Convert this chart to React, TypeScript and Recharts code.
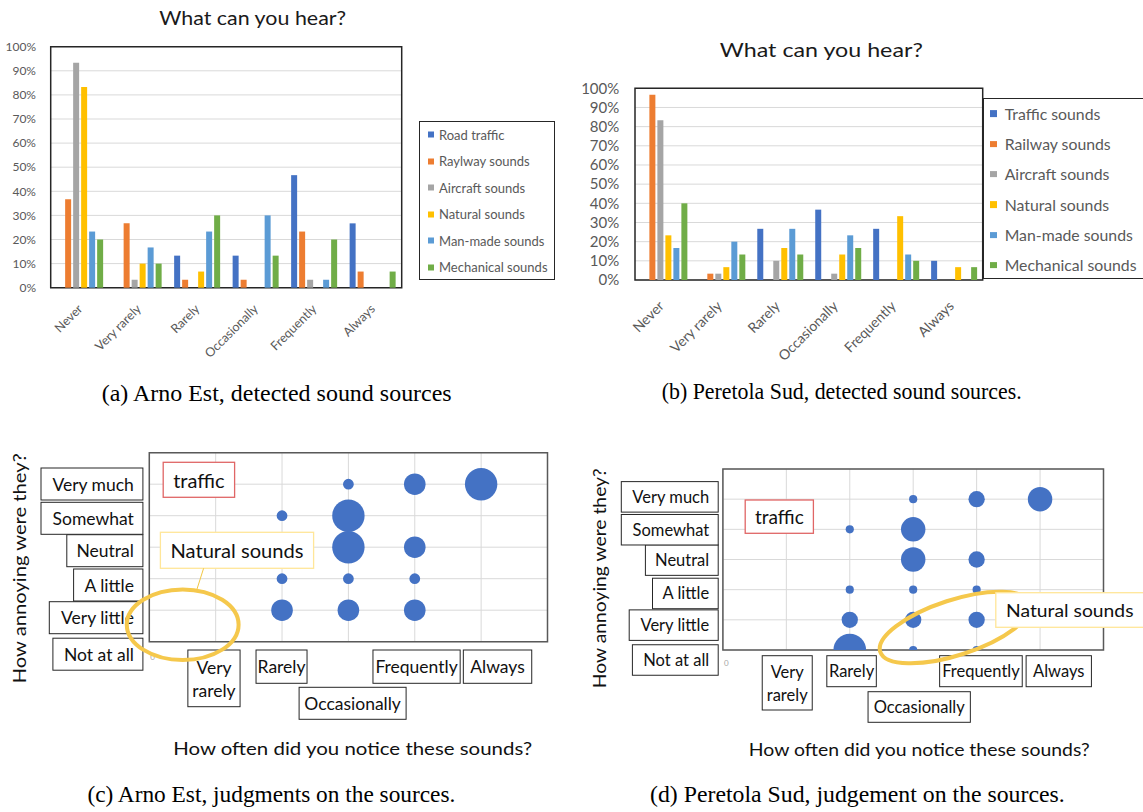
import {
  BarChart,
  Bar,
  XAxis,
  YAxis,
  CartesianGrid,
  Legend,
  ReferenceArea,
  ScatterChart,
  Scatter,
  ZAxis,
} from "recharts"

const SANS = "Lato, 'Open Sans', sans-serif"
const SERIF = "'Liberation Serif', 'Times New Roman', serif"

// ---- data ----
const categories = ["Never", "Very rarely", "Rarely", "Occasionally", "Frequently", "Always"]
const percentTicks = [0, 10, 20, 30, 40, 50, 60, 70, 80, 90, 100]

// (a) Arno Est, % of answers
const arnoNames = ["Road traffic", "Raylway sounds", "Aircraft sounds", "Natural sounds", "Man-made sounds", "Mechanical sounds"]
const arnoRoad = [0, 0, 13.3, 13.3, 46.7, 26.7]
const arnoRail = [36.7, 26.7, 3.3, 3.3, 23.3, 6.7]
const arnoAir = [93.3, 3.3, 0, 0, 3.3, 0]
const arnoNatural = [83.3, 10, 6.7, 0, 0, 0]
const arnoManMade = [23.3, 16.7, 23.3, 30, 3.3, 0]
const arnoMech = [20, 10, 30, 13.3, 20, 6.7]

// (b) Peretola Sud, % of answers
const peretolaNames = ["Traffic sounds", "Railway sounds", "Aircraft sounds", "Natural sounds", "Man-made sounds", "Mechanical sounds"]
const peretolaTraffic = [0, 0, 26.7, 36.7, 26.7, 10]
const peretolaRail = [96.7, 3.3, 0, 0, 0, 0]
const peretolaAir = [83.3, 3.3, 10, 3.3, 0, 0]
const peretolaNatural = [23.3, 6.7, 16.7, 13.3, 33.3, 6.7]
const peretolaManMade = [16.7, 20, 26.7, 23.3, 13.3, 0]
const peretolaMech = [40, 13.3, 13.3, 16.7, 10, 6.7]

const seriesColors = ["#4472C4", "#ED7D31", "#A5A5A5", "#FFC000", "#5B9BD5", "#70AD47"]

// (c)/(d) bubbles: how often (0-5), how annoying (0-5), bubble size
const annoyanceLabels = ["Not at all", "Very little", "A little", "Neutral", "Somewhat", "Very much"]
const levelTicks = [0, 1, 2, 3, 4, 5]

const arnoFreq = [3, 4, 5, 2, 3, 3, 4, 2, 3, 4, 2, 3, 4]
const arnoAnnoy = [5, 5, 5, 4, 4, 3, 3, 2, 2, 2, 1, 1, 1]
const arnoSize = [1, 4, 9, 1, 9, 9, 4, 1, 1, 1, 4, 4, 4]

const peretolaFreq = [3, 4, 5, 2, 3, 3, 4, 2, 3, 4, 2, 3, 4, 2, 3, 4]
const peretolaAnnoy = [5, 5, 5, 4, 4, 3, 3, 2, 2, 2, 1, 1, 1, 0, 0, 0]
const peretolaSize = [1, 4, 9, 1, 9, 9, 4, 1, 1, 1, 4, 4, 4, 16, 1, 1]

// ---- layout ----
const layoutA = {
  left: 0, top: 0, width: 560, height: 380,
  margin: { top: 46.7, right: 158.3, bottom: 32.3, left: 0 },
  yAxisWidth: 50.7, xAxisHeight: 60,
  yFont: 12, yTickMargin: 14.7,
  xFont: 12.5, xDx: 3.4, xDy: 22,
  legend: { left: 419, top: 120.5, width: 136, height: 159.5, first: 13, step: 26.5, font: 13, marker: 6, markerX: 7.5, textX: 19 },
}

const layoutB = {
  left: 570, top: 0, width: 573, height: 380,
  margin: { top: 88.3, right: 160.3, bottom: 40, left: 0 },
  yAxisWidth: 65, xAxisHeight: 60,
  yFont: 15, yTickMargin: 15.7,
  xFont: 14, xDx: 1, xDy: 27,
  legend: { left: 412.7, top: 98.3, width: 165, height: 181, first: 14.4, step: 30.3, font: 15.8, marker: 6.5, markerX: 6.5, textX: 21 },
}

const layoutC = {
  left: 0, top: 430, width: 560, height: 382,
  margin: { top: 22.7, right: 12.5, bottom: 70.3, left: 0 },
  yAxisWidth: 149.3, xAxisHeight: 100,
  zMax: 9, areaMax: 824,
  font: 17.5,
  yGap: 6.4, yPad: 9, yBoxH: 32,
  yBoxes: [
    { dy: 12.5, w: 90 }, { dy: 7.5, w: 93.6 }, { dy: 6.3, w: 69.3 },
    { dy: 3.5, w: 76.1 }, { dy: 2.6, w: 101.9 }, { dy: -0.2, w: 101.9 },
  ],
  xBoxes: [
    null,
    { dx: -1.7, dy: 8.3, w: 52.2, h: 56.7, wrap: true },
    { dx: -0.5, dy: 8.3, w: 51, h: 33.3 },
    { dx: 4.2, dy: 45.6, w: 107, h: 32 },
    { dx: 1.8, dy: 8.3, w: 87.2, h: 33.3 },
    { dx: 16.4, dy: 8.3, w: 68.4, h: 33.3 },
  ],
  zeroDy: 15,
}

const layoutD = {
  left: 580, top: 430, width: 563, height: 382,
  margin: { top: 39, right: 39.5, bottom: 62, left: 0 },
  yAxisWidth: 142.9, xAxisHeight: 100,
  zMax: 16, areaMax: 835,
  font: 16.5,
  yGap: 4.7, yPad: 9, yBoxH: 30.5,
  yBoxes: [
    { dy: 10, w: 85.8 }, { dy: 5.3, w: 89 }, { dy: 3.8, w: 65.7 },
    { dy: 0.6, w: 72.8 }, { dy: 0.4, w: 96.9 }, { dy: -2.3, w: 96.9 },
  ],
  xBoxes: [
    null,
    { dx: 0.9, dy: 5.7, w: 50, h: 54.3, wrap: true },
    { dx: 1.8, dy: 5.7, w: 49.5, h: 31 },
    { dx: 6, dy: 41.7, w: 102.3, h: 30.6 },
    { dx: 4.3, dy: 5.7, w: 82.6, h: 31 },
    { dx: 18.7, dy: 5.7, w: 65.3, h: 31 },
  ],
  zeroDy: 13.3,
}

// ---- bar charts ----
function makeLegend(L: any, names: string[]) {
  return (props: any) => {
    // keep the series order instead of the alphabetical one
    const payload = [...(props.payload || [])].sort(
      (a: any, b: any) => names.indexOf(a.value) - names.indexOf(b.value)
    )
    return (
      <div style={{ position: "relative", width: "100%", height: "100%" }}>
        {payload.map((p: any, i: number) => (
          <div
            key={i}
            style={{
              position: "absolute",
              left: L.markerX,
              top: L.first + i * L.step,
              transform: "translateY(-50%)",
              display: "flex",
              alignItems: "center",
              whiteSpace: "nowrap",
            }}
          >
            <span
              style={{
                display: "inline-block",
                width: L.marker,
                height: L.marker,
                background: p.color,
                marginRight: L.textX - L.markerX - L.marker,
              }}
            />
            <span style={{ fontSize: L.font, color: "#595959", fontFamily: SANS, lineHeight: 1 }}>{p.value}</span>
          </div>
        ))}
      </div>
    )
  }
}

function SourcesChart({ series, names, L }: any) {
  const rows = categories.map((c, i) => {
    const r: any = { cat: c }
    series.forEach((s: number[], k: number) => (r["s" + k] = s[i]))
    return r
  })
  const lg = L.legend
  return (
    <BarChart
      width={L.width}
      height={L.height}
      data={rows}
      margin={L.margin}
      barCategoryGap="11%"
      barGap={2}
    >
      <CartesianGrid vertical={false} stroke="#D9D9D9" />
      <XAxis
        dataKey="cat"
        height={L.xAxisHeight}
        axisLine={false}
        tickLine={false}
        tickSize={0}
        tickMargin={0}
        interval={0}
        tick={(p: any) => (
          <text
            x={p.x + L.xDx}
            y={p.y + L.xDy}
            transform={`rotate(-45 ${p.x + L.xDx} ${p.y + L.xDy})`}
            textAnchor="end"
            fontSize={L.xFont}
            fill="#595959"
            fontFamily={SANS}
          >
            {p.payload.value}
          </text>
        )}
      />
      <YAxis
        domain={[0, 100]}
        ticks={percentTicks}
        interval={0}
        tickFormatter={(v: number) => `${v}%`}
        width={L.yAxisWidth}
        axisLine={false}
        tickLine={false}
        tickSize={0}
        tickMargin={L.yTickMargin}
        tick={{ fill: "#595959", fontSize: L.yFont, fontFamily: SANS }}
      />
      {series.map((_: number[], k: number) => (
        <Bar key={k} dataKey={"s" + k} name={names[k]} fill={seriesColors[k]} isAnimationActive={false} />
      ))}
      <ReferenceArea y1={0} y2={100} fill="none" stroke="#262626" strokeWidth={1.5} />
      <Legend
        layout="vertical"
        align="center"
        verticalAlign="middle"
        content={makeLegend(lg, names)}
        wrapperStyle={{
          left: lg.left,
          top: lg.top,
          width: lg.width,
          height: lg.height,
          border: "1.5px solid #262626",
          boxSizing: "border-box",
          background: "#fff",
        }}
      />
    </BarChart>
  )
}

// ---- bubble charts ----
function JudgmentChart({ freq, annoy, size, L }: any) {
  const points = freq.map((f: number, i: number) => ({ f, a: annoy[i], s: size[i] }))

  const yTick = (p: any) => {
    const v = p.payload.value
    const b = L.yBoxes[v]
    const right = p.x - L.yGap
    const cy = p.y + b.dy
    return (
      <g>
        <rect x={right - b.w} y={cy - L.yBoxH / 2} width={b.w} height={L.yBoxH} fill="#fff" stroke="#262626" strokeWidth={1} />
        <text x={right - L.yPad} y={cy} textAnchor="end" dominantBaseline="central" fontSize={L.font} fill="#111" fontFamily={SANS}>
          {annoyanceLabels[v]}
        </text>
      </g>
    )
  }

  const xTick = (p: any) => {
    const v = p.payload.value
    if (v === 0) {
      return (
        <text x={p.x + 1} y={p.y + L.zeroDy} dominantBaseline="central" fontSize={8} fill="#A6A6A6" fontFamily={SANS}>
          0
        </text>
      )
    }
    const b = L.xBoxes[v]
    const cx = p.x + b.dx
    const top = p.y + b.dy
    const label = categories[v]
    const lines = b.wrap ? label.split(" ") : [label]
    return (
      <g>
        <rect x={cx - b.w / 2} y={top} width={b.w} height={b.h} fill="#fff" stroke="#262626" strokeWidth={1} />
        {lines.map((t: string, i: number) => (
          <text
            key={i}
            x={cx}
            y={lines.length > 1 ? top + b.h * (i === 0 ? 0.3 : 0.72) : top + b.h / 2}
            textAnchor="middle"
            dominantBaseline="central"
            fontSize={L.font}
            fill="#111"
            fontFamily={SANS}
          >
            {t}
          </text>
        ))}
      </g>
    )
  }

  return (
    <ScatterChart width={L.width} height={L.height} margin={L.margin}>
      <CartesianGrid stroke="#D9D9D9" />
      <XAxis
        type="number"
        dataKey="f"
        domain={[0, 6]}
        ticks={levelTicks}
        allowDataOverflow
        height={L.xAxisHeight}
        axisLine={false}
        tickLine={false}
        tickSize={0}
        tickMargin={0}
        interval={0}
        tick={xTick}
      />
      <YAxis
        type="number"
        dataKey="a"
        domain={[0, 6]}
        ticks={levelTicks}
        allowDataOverflow
        width={L.yAxisWidth}
        axisLine={false}
        tickLine={false}
        tickSize={0}
        tickMargin={0}
        interval={0}
        tick={yTick}
      />
      <ZAxis type="number" dataKey="s" domain={[0, L.zMax]} range={[0, L.areaMax]} />
      <Scatter data={points} fill="#4472C4" isAnimationActive={false} />
      <ReferenceArea x1={0} x2={6} y1={0} y2={6} fill="none" stroke="#595959" strokeWidth={1.5} />
    </ScatterChart>
  )
}

function Box({ x, y, w, h, stroke, text, fs, tl }: any) {
  return (
    <g>
      <rect x={x} y={y} width={w} height={h} fill="#fff" stroke={stroke} strokeWidth={1.3} />
      <text
        x={x + w / 2}
        y={y + h / 2}
        textAnchor="middle"
        dominantBaseline="central"
        fontSize={fs}
        fill="#111"
        fontFamily={SANS}
        textLength={tl}
        lengthAdjust={tl ? "spacingAndGlyphs" : undefined}
      >
        {text}
      </text>
    </g>
  )
}

export default function App() {
  const place = (L: any) => ({ position: "absolute" as const, left: L.left, top: L.top })
  return (
    <div style={{ position: "absolute", left: 0, top: 0, width: 1143, height: 812, background: "#fff", overflow: "hidden" }}>
      <div style={place(layoutA)}>
        <SourcesChart
          series={[arnoRoad, arnoRail, arnoAir, arnoNatural, arnoManMade, arnoMech]}
          names={arnoNames}
          L={layoutA}
        />
      </div>
      <div style={place(layoutB)}>
        <SourcesChart
          series={[peretolaTraffic, peretolaRail, peretolaAir, peretolaNatural, peretolaManMade, peretolaMech]}
          names={peretolaNames}
          L={layoutB}
        />
      </div>
      <div style={place(layoutC)}>
        <JudgmentChart freq={arnoFreq} annoy={arnoAnnoy} size={arnoSize} L={layoutC} />
      </div>
      <div style={place(layoutD)}>
        <JudgmentChart freq={peretolaFreq} annoy={peretolaAnnoy} size={peretolaSize} L={layoutD} />
      </div>

      <svg width={1143} height={812} style={{ position: "absolute", left: 0, top: 0, pointerEvents: "none" }}>
        {/* titles */}
        <text x={252.7} y={25} textAnchor="middle" fontSize={18.5} fill="#1a1a1a" fontFamily={SANS} textLength={187} lengthAdjust="spacingAndGlyphs">
          What can you hear?
        </text>
        <text x={821.3} y={57.3} textAnchor="middle" fontSize={20} fill="#1a1a1a" fontFamily={SANS} textLength={203} lengthAdjust="spacingAndGlyphs">
          What can you hear?
        </text>

        {/* axis titles of the bubble charts */}
        <text x={352.7} y={748.3} textAnchor="middle" dominantBaseline="central" fontSize={17.5} fill="#111" fontFamily={SANS} textLength={359} lengthAdjust="spacingAndGlyphs">
          How often did you notice these sounds?
        </text>
        <text x={919.3} y={750} textAnchor="middle" dominantBaseline="central" fontSize={16.5} fill="#111" fontFamily={SANS} textLength={341} lengthAdjust="spacingAndGlyphs">
          How often did you notice these sounds?
        </text>
        <text x={18.6} y={568.3} transform="rotate(-90 18.6 568.3)" textAnchor="middle" dominantBaseline="central" fontSize={18} fill="#111" fontFamily={SANS} textLength={230} lengthAdjust="spacingAndGlyphs">
          How annoying were they?
        </text>
        <text x={599.7} y={578.3} transform="rotate(-90 599.7 578.3)" textAnchor="middle" dominantBaseline="central" fontSize={17} fill="#111" fontFamily={SANS} textLength={220} lengthAdjust="spacingAndGlyphs">
          How annoying were they?
        </text>

        {/* annotations (c) */}
        <Box x={163.2} y={462.3} w={71.4} h={35} stroke="#E06666" text="traffic" fs={20} />
        <Box x={160.4} y={532.3} w={153.2} h={36} stroke="#FFE699" text="Natural sounds" fs={19} tl={133} />
        <line x1={203.6} y1={568.3} x2={196.4} y2={591} stroke="#F2C744" strokeWidth={1} />
        <ellipse cx={182.7} cy={624.7} rx={55.9} ry={35.3} fill="none" stroke="#F5C84C" strokeWidth={4} />

        {/* annotations (d) */}
        <Box x={745.2} y={500} w={68.2} h={33.3} stroke="#E06666" text="traffic" fs={19} />
        <ellipse cx={955.2} cy={627.5} rx={78.8} ry={27.6} transform="rotate(-18 955.2 627.5)" fill="none" stroke="#F5C84C" strokeWidth={4} />
        <Box x={995.8} y={592.7} w={148} h={34.6} stroke="#FFE699" text="Natural sounds" fs={18} tl={127.5} />

        {/* captions */}
        <text x={276.7} y={400.7} textAnchor="middle" fontSize={22.5} fill="#000" fontFamily={SERIF} textLength={350} lengthAdjust="spacingAndGlyphs">
          (a) Arno Est, detected sound sources
        </text>
        <text x={841.7} y={399.3} textAnchor="middle" fontSize={22.5} fill="#000" fontFamily={SERIF} textLength={360} lengthAdjust="spacingAndGlyphs">
          (b) Peretola Sud, detected sound sources.
        </text>
        <text x={271.4} y={801.7} textAnchor="middle" fontSize={22.5} fill="#000" fontFamily={SERIF} textLength={368} lengthAdjust="spacingAndGlyphs">
          (c) Arno Est, judgments on the sources.
        </text>
        <text x={857.4} y={801.7} textAnchor="middle" fontSize={22.5} fill="#000" fontFamily={SERIF} textLength={414.7} lengthAdjust="spacingAndGlyphs">
          (d) Peretola Sud, judgement on the sources.
        </text>
      </svg>
    </div>
  )
}
